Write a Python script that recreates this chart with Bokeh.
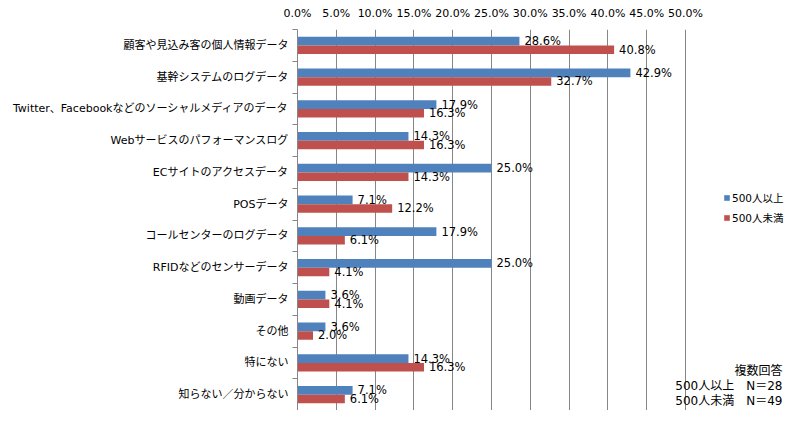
from bokeh.plotting import figure
from bokeh.models import Range1d, FixedTicker, NumeralTickFormatter, Legend, LegendItem, Label
from bokeh.core.properties import value
from bokeh.embed import file_html
from bokeh.resources import INLINE

# data (percent)
categories = [
    "顧客や見込み客の個人情報データ",
    "基幹システムのログデータ",
    "Twitter、Facebookなどのソーシャルメディアのデータ",
    "Webサービスのパフォーマンスログ",
    "ECサイトのアクセスデータ",
    "POSデータ",
    "コールセンターのログデータ",
    "RFIDなどのセンサーデータ",
    "動画データ",
    "その他",
    "特にない",
    "知らない／分からない",
]
over500 = [28.6, 42.9, 17.9, 14.3, 25.0, 7.1, 17.9, 25.0, 3.6, 3.6, 14.3, 7.1]
under500 = [40.8, 32.7, 16.3, 16.3, 14.3, 12.2, 6.1, 4.1, 4.1, 2.0, 16.3, 6.1]
series_names = ["500人以上", "500人未満"]
x_ticks = [0, 5, 10, 15, 20, 25, 30, 35, 40, 45, 50]
note_lines = ["複数回答", "500人以上　N＝28", "500人未満　N＝49"]

BLUE = "#4F81BD"
RED = "#C0504D"
LATIN = "'DejaVu Sans', 'Noto Sans CJK JP'"

n = len(categories)
centers = [i + 0.5 for i in range(n)]
bar_h = 0.27
y_blue = [c - bar_h / 2 for c in centers]
y_red = [c + bar_h / 2 for c in centers]
xb = [v / 100 for v in over500]
xr = [v / 100 for v in under500]

W, H = 785, 410
left_b, right_b = 297, 0
frame_w = W - left_b - right_b
# the frame runs on past 50% so the legend and the note fit inside it
x_end = 0.5 * frame_w / 388

p = figure(width=W, height=H, x_range=Range1d(0, x_end), y_range=Range1d(n, 0),
           x_axis_location="above", output_backend="svg", toolbar_location=None, tools="",
           min_border_left=left_b, min_border_right=right_b, min_border_top=29, min_border_bottom=0)
p.outline_line_color = None
p.background_fill_color = "white"

# value axis on top
p.xaxis.ticker = FixedTicker(ticks=[t / 100 for t in x_ticks])
p.xaxis.formatter = NumeralTickFormatter(format="0.0%")
p.xaxis.axis_line_color = None
p.xaxis.major_tick_line_color = None
p.xaxis.minor_tick_line_color = None
p.xaxis.major_tick_out = 0
p.xaxis.major_tick_in = 0
p.xaxis.major_label_standoff = 10
p.xaxis.major_label_text_font = LATIN
p.xaxis.major_label_text_font_size = "11px"
p.xaxis.major_label_text_color = "#000000"
p.xgrid.ticker = FixedTicker(ticks=[t / 100 for t in x_ticks])
p.xgrid.grid_line_color = "#868686"
p.ygrid.grid_line_color = None

# category axis, tick marks between categories
p.yaxis.ticker = FixedTicker(ticks=centers, minor_ticks=list(range(n + 1)))
p.yaxis.major_label_overrides = {c: lab for c, lab in zip(centers, categories)}
p.yaxis.axis_line_color = "#868686"
p.yaxis.major_tick_line_color = None
p.yaxis.major_tick_out = 0
p.yaxis.major_tick_in = 0
p.yaxis.minor_tick_line_color = "#868686"
p.yaxis.minor_tick_out = 5
p.yaxis.minor_tick_in = 0
p.yaxis.major_label_standoff = 4
p.yaxis.major_label_text_font = LATIN
p.yaxis.major_label_text_font_size = "11px"
p.yaxis.major_label_text_color = "#000000"

rb = p.hbar(y=y_blue, right=xb, left=0, height=bar_h, fill_color=BLUE, line_color=None)
rr = p.hbar(y=y_red, right=xr, left=0, height=bar_h, fill_color=RED, line_color=None)

p.text(x=xb, y=y_blue, text=["%.1f%%" % v for v in over500], x_offset=5,
       text_baseline="middle", text_font=value(LATIN), text_font_size="11.5px", text_color="#000000")
p.text(x=xr, y=y_red, text=["%.1f%%" % v for v in under500], x_offset=5,
       text_baseline="middle", text_font=value(LATIN), text_font_size="11.5px", text_color="#000000")

legend = Legend(items=[LegendItem(label=series_names[0], renderers=[rb]),
                       LegendItem(label=series_names[1], renderers=[rr])],
                location=(426, 185), orientation="vertical",
                glyph_width=7, glyph_height=7, label_height=14, label_width=50, spacing=5,
                label_standoff=2, padding=0, margin=0,
                border_line_color=None, background_fill_alpha=0,
                label_text_font=LATIN, label_text_font_size="10.5px", label_text_color="#000000")
p.add_layout(legend, "center")

for k, line in enumerate(note_lines):
    p.add_layout(Label(x=frame_w - 3, y=40 - 15 * k, x_units="screen", y_units="screen",
                       text=line, text_align="right", text_baseline="middle", text_font=LATIN,
                       text_font_size="12px", text_color="#000000"))

open("out.html", "w").write(file_html(p, INLINE))
